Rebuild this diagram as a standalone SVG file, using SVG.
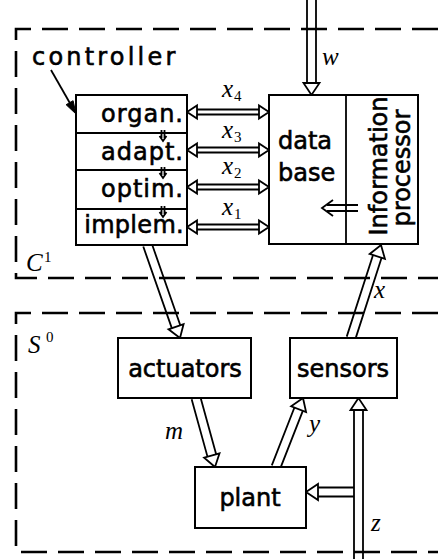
<svg xmlns="http://www.w3.org/2000/svg" xmlns:xlink="http://www.w3.org/1999/xlink" width="438" height="559" viewBox="0 0 438 559">
  <style>
    .box { fill: #fff; stroke: #000; stroke-width: 2; }
    .line { fill: none; stroke: #000; stroke-width: 1.8; }
    .dash { fill: none; stroke: #000; stroke-width: 2.6; stroke-dasharray: 26 11; }
    .head { fill: #fff; stroke: #000; stroke-width: 1.8; stroke-linejoin: miter; }
    .lbl { font-family: "DejaVu Sans", "Liberation Sans", sans-serif; font-size: 24px; fill: #000; stroke: #000; stroke-width: 0.6; }
    .var { font-family: "Liberation Serif", "DejaVu Serif", serif; font-style: italic; font-size: 25px; fill: #000; }
    .sub { font-family: "Liberation Serif", "DejaVu Serif", serif; font-size: 15px; fill: #000; }
  </style>
  <defs>
    <!-- hollow arrowhead, tip at origin, pointing down -->
    <polygon id="hd" class="head" points="0,0 -8,-12 8,-12"/>
    <!-- small hollow head for the two-way x links, pointing left -->
    <polygon id="hl" class="head" points="0,0 10,-6.5 10,6.5"/>
  </defs>

  <!-- subsystem boundaries -->
  <g id="c1-boundary">
    <path class="dash" d="M438,29 H16 V278 H438"/>
    <text class="var" x="26" y="271" font-size="24">C</text>
    <text class="sub" x="44" y="262" font-size="14">1</text>
  </g>
  <g id="s0-boundary">
    <path class="dash" d="M438,313 H16 V552 H438"/>
    <text class="var" x="28" y="353" font-size="25">S</text>
    <text class="sub" x="46" y="342" font-size="14">0</text>
  </g>

  <!-- connectors -->
  <g id="connectors">
    <!-- w input into the data base -->
    <g transform="translate(311.5,95)">
      <path class="line" d="M-4.5,-12 V-96 M4.5,-12 V-96"/>
      <use xlink:href="#hd"/>
    </g>
    <!-- controller to actuators -->
    <g transform="translate(180,338) rotate(-19.26)">
      <path class="line" d="M-4.5,-12 V-98.5 M4.5,-12 V-98.5"/>
      <use xlink:href="#hd"/>
    </g>
    <!-- m: actuators to plant -->
    <g transform="translate(215,467) rotate(-15.4)">
      <path class="line" d="M-4.5,-12 V-71.6 M4.5,-12 V-71.6"/>
      <use xlink:href="#hd"/>
    </g>
    <!-- y: plant to sensors -->
    <g transform="translate(303,398) rotate(-158.63)">
      <path class="line" d="M-4.5,-12 V-74.1 M4.5,-12 V-74.1"/>
      <use xlink:href="#hd"/>
    </g>
    <!-- x: sensors to information processor -->
    <g transform="translate(381,245) rotate(-162.12)">
      <path class="line" d="M-4.5,-12 V-97.7 M4.5,-12 V-97.7"/>
      <use xlink:href="#hd"/>
    </g>
    <!-- z disturbance into sensors -->
    <g transform="translate(358.5,398)">
      <path class="line" d="M-4.5,-12 V-162 M4.5,-12 V-162" transform="scale(1,-1)"/>
      <use xlink:href="#hd" transform="scale(1,-1)"/>
    </g>
    <!-- z branch into plant -->
    <g transform="translate(306,492) rotate(90)">
      <path class="line" d="M-4.5,-12 V-48 M4.5,-12 V-48"/>
      <use xlink:href="#hd"/>
    </g>

    <!-- two-way links between controller layers and data base -->
    <g id="link-x4" transform="translate(0,112)">
      <path class="line" d="M197,-2.5 H259 M197,2.5 H259"/>
      <use xlink:href="#hl" transform="translate(187,0)"/>
      <use xlink:href="#hl" transform="translate(269,0) scale(-1,1)"/>
    </g>
    <g id="link-x3" transform="translate(0,150)">
      <path class="line" d="M197,-2.5 H259 M197,2.5 H259"/>
      <use xlink:href="#hl" transform="translate(187,0)"/>
      <use xlink:href="#hl" transform="translate(269,0) scale(-1,1)"/>
    </g>
    <g id="link-x2" transform="translate(0,187)">
      <path class="line" d="M197,-2.5 H259 M197,2.5 H259"/>
      <use xlink:href="#hl" transform="translate(187,0)"/>
      <use xlink:href="#hl" transform="translate(269,0) scale(-1,1)"/>
    </g>
    <g id="link-x1" transform="translate(0,227)">
      <path class="line" d="M197,-2.5 H259 M197,2.5 H259"/>
      <use xlink:href="#hl" transform="translate(187,0)"/>
      <use xlink:href="#hl" transform="translate(269,0) scale(-1,1)"/>
    </g>

    <!-- pointer from the controller caption -->
    <path class="line" d="M51,70 L71,105"/>
    <polygon points="76,114 66.1,104.7 73.1,100.7" fill="#000" stroke="#000" stroke-width="1"/>

    <!-- variable labels -->
    <text class="var" x="322" y="65">w</text>
    <text class="var" x="374" y="298">x</text>
    <text class="var" x="165" y="439">m</text>
    <text class="var" x="309" y="432">y</text>
    <text class="var" x="371" y="531">z</text>
    <text class="var" x="222" y="97">x</text><text class="sub" x="234" y="101">4</text>
    <text class="var" x="222" y="138">x</text><text class="sub" x="234" y="142">3</text>
    <text class="var" x="222" y="174">x</text><text class="sub" x="234" y="178">2</text>
    <text class="var" x="222" y="215">x</text><text class="sub" x="234" y="219">1</text>
  </g>

  <!-- controller: four stacked layers -->
  <g id="controller">
    <text class="lbl" x="32" y="65" font-size="21" letter-spacing="3.2">controller</text>
    <rect class="box" x="76" y="95" width="111" height="150"/>
    <path class="line" stroke-width="2" d="M76,133 H187 M76,170 H187 M76,209 H187"/>
    <text class="lbl" x="184" y="122" text-anchor="end" font-size="23" letter-spacing="1">organ.</text>
    <text class="lbl" x="184" y="160" text-anchor="end" font-size="23" letter-spacing="1">adapt.</text>
    <text class="lbl" x="184" y="197" text-anchor="end" font-size="23" letter-spacing="1">optim.</text>
    <text class="lbl" x="184" y="233" text-anchor="end" font-size="23" letter-spacing="0.3">implem.</text>
    <!-- downward hand-offs between layers -->
    <path class="line" stroke-width="1.3" d="M161.5,130 V138 M164.5,130 V138 M159.5,136 L163,141 L166.5,136"/>
    <path class="line" stroke-width="1.3" d="M161.5,167 V175 M164.5,167 V175 M159.5,173 L163,178 L166.5,173"/>
    <path class="line" stroke-width="1.3" d="M161.5,206 V214 M164.5,206 V214 M159.5,212 L163,217 L166.5,212"/>
  </g>

  <!-- data base with information processor -->
  <g id="database">
    <rect class="box" x="269" y="95" width="149" height="149"/>
    <path class="line" stroke-width="2" d="M346,95 V244"/>
    <text class="lbl" x="278" y="149">data</text>
    <text class="lbl" x="278" y="181">base</text>
    <text class="lbl" transform="translate(387,166) rotate(-90)" text-anchor="middle" font-size="24">Information</text>
    <text class="lbl" transform="translate(410,168) rotate(-90)" text-anchor="middle" font-size="24">processor</text>
    <!-- processor feeding back into the base -->
    <path class="line" d="M327,205 H358 M327,211 H358 M333,200 L322,208 L333,216"/>
  </g>

  <g id="actuators">
    <rect class="box" x="118" y="338" width="133" height="60"/>
    <text class="lbl" x="185" y="377" text-anchor="middle">actuators</text>
  </g>

  <g id="sensors">
    <rect class="box" x="290" y="338" width="107" height="60"/>
    <text class="lbl" x="343" y="377" text-anchor="middle" font-size="23.5">sensors</text>
  </g>

  <g id="plant">
    <rect class="box" x="195" y="467" width="111" height="61"/>
    <text class="lbl" x="250" y="506" text-anchor="middle">plant</text>
  </g>
</svg>
